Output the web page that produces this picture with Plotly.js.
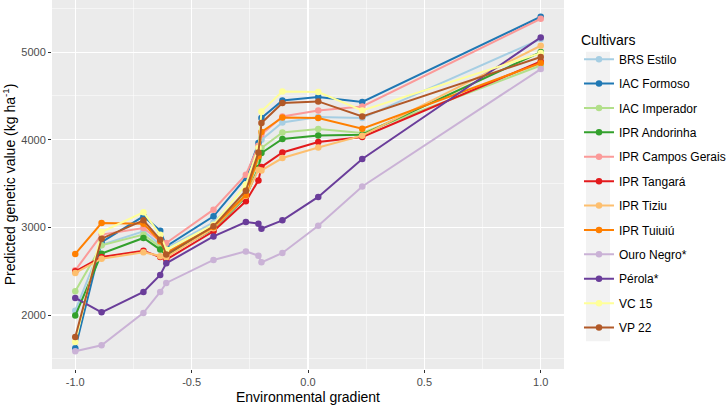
<!DOCTYPE html>
<html>
<head>
<meta charset="utf-8">
<script src="https://cdn.plot.ly/plotly-3.0.1.min.js"></script>
<style>html,body{margin:0;padding:0;background:#fff;}#chart{width:726px;height:407px;}</style>
</head>
<body>
<div id="chart"></div>
<script>
// Environmental gradient positions
const gradient = [-1.0, -0.887, -0.707, -0.635, -0.609, -0.406, -0.267, -0.213, -0.2, -0.11, 0.044, 0.233, 1.0];

const cultivars = ["BRS Estilo", "IAC Formoso", "IAC Imperador", "IPR Andorinha", "IPR Campos Gerais",
  "IPR Tangará", "IPR Tiziu", "IPR Tuiuiú", "Ouro Negro*", "Pérola*", "VC 15", "VP 22"];

const brsEstilo       = [2050, 2800, 2955, 2803, 2760, 3057, 3392, 3829, 4000, 4197, 4259, 4247, 5148];
const iacFormoso      = [1620, 2830, 3126, 2962, 2784, 3126, 3563, 3962, 4247, 4448, 4487, 4430, 5403];
const iacImperador    = [2270, 2795, 2917, 2777, 2710, 3012, 3380, 3772, 3905, 4083, 4122, 4076, 4847];
const iprAndorinha    = [1993, 2700, 2879, 2746, 2680, 2982, 3347, 3677, 3848, 4008, 4049, 4057, 5000];
const iprCamposGerais = [2510, 2917, 2993, 2840, 2822, 3202, 3601, 3930, 4060, 4266, 4334, 4380, 5380];
const iprTangara      = [2498, 2662, 2734, 2662, 2632, 2955, 3297, 3536, 3689, 3855, 3974, 4031, 4893];
const iprTiziu        = [2480, 2643, 2715, 2670, 2660, 2990, 3360, 3658, 3650, 3791, 3912, 4046, 5072];
const iprTuiuiu       = [2697, 3050, 3042, 2841, 2708, 3005, 3369, 3810, 4088, 4254, 4247, 4125, 4875];
const ouroNegro       = [1586, 1654, 2024, 2263, 2366, 2628, 2726, 2677, 2601, 2708, 3019, 3467, 4806];
const perola          = [2195, 2031, 2263, 2457, 2590, 2897, 3061, 3042, 2985, 3080, 3347, 3780, 5167];
const vc15            = [1693, 2947, 3171, 2917, 2746, 3031, 3487, 3905, 4323, 4551, 4544, 4334, 4988];
const vp22            = [1750, 2871, 3080, 2860, 2690, 3012, 3418, 3855, 4190, 4418, 4437, 4266, 4943];

const seriesValues = [brsEstilo, iacFormoso, iacImperador, iprAndorinha, iprCamposGerais, iprTangara,
  iprTiziu, iprTuiuiu, ouroNegro, perola, vc15, vp22];

const colors = ["#A6CEE3", "#1F78B4", "#B2DF8A", "#33A02C", "#FB9A99", "#E31A1C",
  "#FDBF6F", "#FF7F00", "#CAB2D6", "#6A3D9A", "#FFFF99", "#B15928"];

const xTickVals = [-1.0, -0.5, 0.0, 0.5, 1.0];
const xTickText = ["-1.0", "-0.5", "0.0", "0.5", "1.0"];
const yTickVals = [2000, 3000, 4000, 5000];

const traces = cultivars.map((name, i) => ({
  type: "scatter",
  mode: "lines+markers",
  name: name,
  legendgroup: name,
  x: gradient,
  y: seriesValues[i],
  line: {color: colors[i], width: 2},
  marker: {color: colors[i], size: 6.5},
  hoverinfo: "skip"
}));

const font = "Liberation Sans, Arial, sans-serif";

const layout = {
  width: 726, height: 407,
  margin: {l: 52, r: 162, t: 0, b: 38},
  paper_bgcolor: "#FFFFFF",
  plot_bgcolor: "#EBEBEB",
  font: {family: font, color: "#000"},
  showlegend: true,
  xaxis: {
    range: [-1.1, 1.1],
    tickvals: xTickVals, ticktext: xTickText,
    showgrid: true, gridcolor: "#FFFFFF", gridwidth: 1.1,
    minor: {dtick: 0.25, tick0: 0, showgrid: true, gridcolor: "#FFFFFF", gridwidth: 0.5},
    zeroline: false, showline: false,
    ticks: "outside", ticklen: 3, tickcolor: "#333333", tickwidth: 1,
    tickfont: {family: font, size: 11, color: "#4D4D4D"},
    title: {text: "Environmental gradient", font: {family: font, size: 14, color: "#000"}, standoff: 4}
  },
  yaxis: {
    range: [1384, 5594],
    tickvals: yTickVals,
    showgrid: true, gridcolor: "#FFFFFF", gridwidth: 1.1,
    minor: {dtick: 500, tick0: 0, showgrid: true, gridcolor: "#FFFFFF", gridwidth: 0.5},
    zeroline: false, showline: false,
    ticks: "outside", ticklen: 3, tickcolor: "#333333", tickwidth: 1,
    tickfont: {family: font, size: 11, color: "#4D4D4D"},
    title: {text: "Predicted genetic value (kg ha<sup>-1</sup>)", font: {family: font, size: 14, color: "#000"}, standoff: 4}
  },
  legend: {
    xref: "container", yref: "container",
    x: 0.7975, xanchor: "left",
    y: 0.935, yanchor: "top",
    maxheight: 390,
    bgcolor: "rgba(0,0,0,0)",
    traceorder: "grouped",
    tracegroupgap: 5.4,
    font: {family: font, size: 12, color: "#000"},
    title: {text: "Cultivars", font: {family: font, size: 14, color: "#000"}}
  },
  shapes: [{
    type: "rect", xref: "paper", yref: "paper",
    x0: 1.043, x1: 1.0898, y0: 0.075, y1: 0.86,
    fillcolor: "#F2F2F2", line: {width: 0}, layer: "below"
  }]
};

Plotly.newPlot("chart", traces, layout, {displayModeBar: false, staticPlot: true});
</script>
</body>
</html>
